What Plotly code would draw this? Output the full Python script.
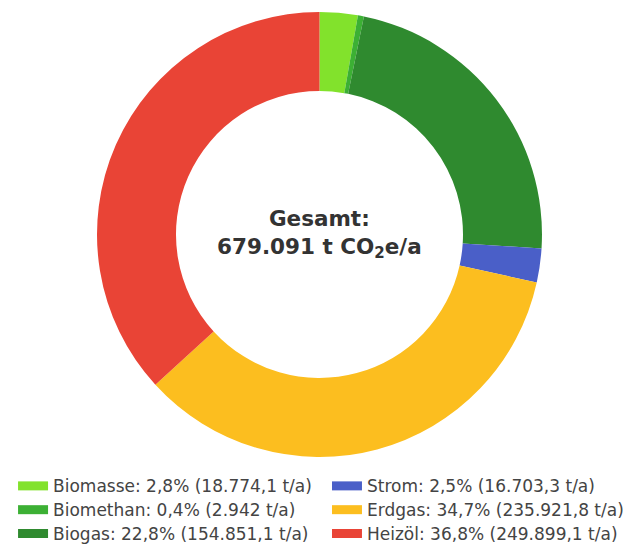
import plotly.graph_objects as go

labels = ["Biomasse", "Biomethan", "Biogas", "Strom", "Erdgas", "Heizöl"]
values = [18774.1, 2942.0, 154851.1, 16703.3, 235921.8, 249899.1]
shares = ["2,8%", "0,4%", "22,8%", "2,5%", "34,7%", "36,8%"]
amounts = ["18.774,1", "2.942", "154.851,1", "16.703,3", "235.921,8", "249.899,1"]
colors = ["#82e22c", "#3cb034", "#2f8a2f", "#4a5fc8", "#fcbe1f", "#e94436"]
total_text = "679.091"

fig = go.Figure()
fig.add_trace(go.Pie(
    labels=labels, values=values, marker=dict(colors=colors, line=dict(width=0)),
    hole=0.645, sort=False, direction="clockwise", rotation=0,
    textinfo="none", showlegend=False, hoverinfo="label+percent",
    domain=dict(x=[0.1410, 0.8463], y=[0.1807, 0.9927]),
))

for i, (lab, sh, am, col) in enumerate(zip(labels, shares, amounts, colors)):
    fig.add_trace(go.Scatter(
        x=[None], y=[None], mode="lines", line=dict(color=col, width=9),
        name=f'<span style="font-size:17px">{lab}: {sh} ({am} t/a)</span>',
        legend="legend" if i < 3 else "legend2",
    ))

legend_font = dict(family="DejaVu Sans", size=16, color="#444")
fig.update_layout(
    width=631, height=548,
    margin=dict(l=0, r=0, t=0, b=0, autoexpand=False),
    paper_bgcolor="white", plot_bgcolor="white",
    xaxis=dict(visible=False), yaxis=dict(visible=False),
    legend=dict(x=0.008, y=0.1588, xanchor="left", yanchor="top", font=legend_font,
                bgcolor="rgba(0,0,0,0)", tracegroupgap=0),
    legend2=dict(x=0.5055, y=0.1588, xanchor="left", yanchor="top", font=legend_font,
                 bgcolor="rgba(0,0,0,0)", tracegroupgap=0),
    annotations=[dict(
        x=0.4937, y=0.5876, xref="paper", yref="paper", showarrow=False,
        text=f"<b>Gesamt:<br>{total_text} t CO<sub>2</sub>e/a</b>",
        font=dict(family="DejaVu Sans", size=21.5, color="#333"),
    )],
)
fig.write_html("out.html")
